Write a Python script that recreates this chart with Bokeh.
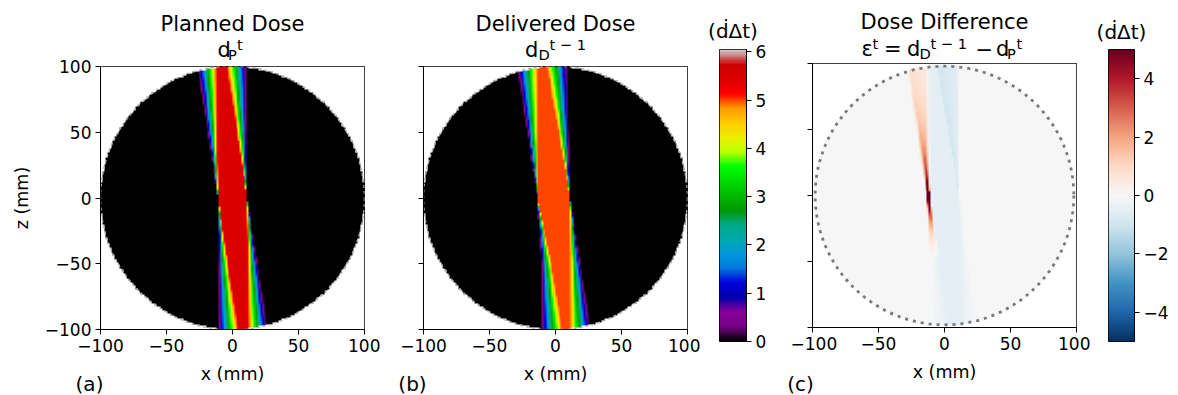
import numpy as np
from bokeh.plotting import figure
from bokeh.models import LinearColorMapper, Range1d, Label, FixedTicker, CustomJSTickFormatter
from bokeh.embed import file_html
from bokeh.resources import INLINE

# ---------------- data ----------------
x_ticks = [-100, -50, 0, 50, 100]
z_ticks = [-100, -50, 0, 50, 100]
dose_cbar_ticks = [0, 1, 2, 3, 4, 5, 6]
diff_cbar_ticks = [-4, -2, 0, 2, 4]
dose_range = [0.0, 6.05]
diff_range = [-5.0, 5.0]
phantom_radius = 100.0
diff_circle_radius = 98.0

# beam (arc) geometry, mm: lateral drift of the beam axis per mm of depth over the arc
beam_slope_range = [-0.16, 0.0]
planned_half_width = [11.0, 11.0]      # left, right edge at z = 0
delivered_half_width = [11.0, 11.0]
delivered_left_extra_z = [-100.0, -50.0, 0.0, 100.0]   # extra left width of the delivered beam
delivered_left_extra_mm = [0.0, 0.0, 2.6, 2.6]
delivered_right_extra_z = [-100.0, 0.0, 100.0]         # change of right width of the delivered beam
delivered_right_extra_mm = [0.0, 0.0, -1.5]
planned_peak = 5.5
delivered_peak = 5.0
grid_cells = 150

# matplotlib colormaps (segment data)
nipy_pos = [i * 0.05 for i in range(21)]
nipy_r = [0, .4667, .5333, 0, 0, 0, 0, 0, 0, 0, 0, 0, 0, .7333, .9333, 1, 1, 1, .8667, .8, .8]
nipy_g = [0, 0, 0, 0, 0, .4667, .6, .6667, .6667, .6, .7333, .8667, 1, 1, .9333, .8, .6, 0, 0, 0, .8]
nipy_b = [0, .5333, .6, .6667, .8667, .8667, .8667, .6667, .5333, 0, 0, 0, 0, 0, 0, 0, 0, 0, 0, 0, .8]
rdbu_r_hex = ['#053061', '#2166ac', '#4393c3', '#92c5de', '#d1e5f0', '#f7f7f7',
              '#fddbc7', '#f4a582', '#d6604d', '#b2182b', '#67001f']


def make_palette(pos, r, g, b, n=256):
    t = np.linspace(0, 1, n)
    rr = np.interp(t, pos, r); gg = np.interp(t, pos, g); bb = np.interp(t, pos, b)
    return ["#%02x%02x%02x" % (int(round(a * 255)), int(round(c * 255)), int(round(d * 255)))
            for a, c, d in zip(rr, gg, bb)]


nipy_pal = make_palette(nipy_pos, nipy_r, nipy_g, nipy_b)
rb = [[int(h[i:i + 2], 16) / 255 for i in (1, 3, 5)] for h in rdbu_r_hex]
rdbu_pal = make_palette(np.linspace(0, 1, 11), [c[0] for c in rb], [c[1] for c in rb], [c[2] for c in rb])

# ---------------- dose fields ----------------
step = 200.0 / grid_cells
centers = -100 + step * (np.arange(grid_cells) + 0.5)
X, Z = np.meshgrid(centers, centers)
R = np.hypot(X, Z)
slopes = np.linspace(beam_slope_range[0], beam_slope_range[1], 321)


def coverage(wl, wr):
    acc = np.zeros_like(X)
    for s in slopes:
        d = X - Z * s
        acc += ((d >= -wl) & (d <= wr))
    return acc / len(slopes)


planned = planned_peak * coverage(planned_half_width[0], planned_half_width[1])
wl_del = delivered_half_width[0] + np.interp(Z, delivered_left_extra_z, delivered_left_extra_mm)
wr_del = delivered_half_width[1] + np.interp(Z, delivered_right_extra_z, delivered_right_extra_mm)
delivered = delivered_peak * coverage(wl_del, wr_del)
difference = delivered - planned

planned_img = np.where(R <= phantom_radius, planned, np.nan)
delivered_img = np.where(R <= phantom_radius, delivered, np.nan)
difference_img = np.where(R <= diff_circle_radius + 1, difference, np.nan)

dose_mapper = LinearColorMapper(palette=nipy_pal, low=dose_range[0], high=dose_range[1], nan_color="white")
diff_mapper = LinearColorMapper(palette=rdbu_pal, low=diff_range[0], high=diff_range[1], nan_color="white")

FONT = "DejaVu Sans"
minus_fmt = CustomJSTickFormatter(code="return (tick < 0 ? '\u2212' : '') + Math.abs(tick).toString();")
blank_fmt = CustomJSTickFormatter(code="return '';")


def style_axis(ax, ticks, labels=True):
    ax.ticker = FixedTicker(ticks=ticks)
    ax.minor_tick_line_color = None
    ax.major_tick_out = 5
    ax.major_tick_in = 0
    ax.major_tick_line_color = "black"
    ax.axis_line_color = "black"
    ax.major_label_text_font = FONT
    ax.major_label_text_font_size = "17px"
    ax.major_label_text_color = "black"
    ax.major_label_standoff = 4
    ax.axis_label_text_font = FONT
    ax.axis_label_text_font_size = "17.5px"
    ax.axis_label_text_font_style = "normal"
    ax.axis_label_text_color = "black"
    ax.formatter = minus_fmt if labels else blank_fmt


def make_fig(g, xr, yr, **kw):
    p = figure(width=g["bl"] + g["fw"] + g["br"], height=g["bt"] + g["fh"] + g["bb"],
               frame_width=g["fw"], frame_height=g["fh"],
               min_border_left=g["bl"], min_border_right=g["br"],
               min_border_top=g["bt"], min_border_bottom=g["bb"],
               x_range=Range1d(*xr), y_range=Range1d(*yr),
               output_backend="svg", toolbar_location=None, **kw)
    p.grid.visible = False
    p.outline_line_color = "black"
    p.outline_line_width = 1
    p.background_fill_color = "white"
    p.border_fill_color = "white"
    p.styles = {"position": "absolute", "left": f"{g['x0']}px", "top": "0px"}
    return p


# ---------- panel (a) ----------
gA = dict(x0=0, bl=100, fw=264, br=16, bt=66, fh=263, bb=66)
pA = make_fig(gA, (-100, 100), (-100, 100))
pA.image(image=[planned_img], x=-100, y=-100, dw=200, dh=200, color_mapper=dose_mapper)
pA.circle(x=[0], y=[0], radius=phantom_radius, fill_color=None, line_color="#b4b4b4",
          line_width=1.5, line_dash="3 3")
style_axis(pA.xaxis[0], x_ticks)
style_axis(pA.yaxis[0], z_ticks)
pA.xaxis.axis_label = "x (mm)"
pA.yaxis.axis_label = "z (mm)"
pA.xaxis.axis_label_standoff = 9
pA.yaxis.axis_label_standoff = 10

# ---------- panel (b) ----------
gB = dict(x0=380, bl=43, fw=264, br=13, bt=66, fh=263, bb=66)
pB = make_fig(gB, (-100, 100), (-100, 100))
pB.image(image=[delivered_img], x=-100, y=-100, dw=200, dh=200, color_mapper=dose_mapper)
pB.circle(x=[0], y=[0], radius=phantom_radius, fill_color=None, line_color="#b4b4b4",
          line_width=1.5, line_dash="3 3")
style_axis(pB.xaxis[0], x_ticks)
style_axis(pB.yaxis[0], z_ticks, labels=False)
pB.xaxis.axis_label = "x (mm)"
pB.xaxis.axis_label_standoff = 9

# ---------- colorbar (a/b) ----------
gC1 = dict(x0=700, bl=19, fw=27, br=44, bt=49, fh=292, bb=54)
pC1 = make_fig(gC1, (0, 1), (dose_range[0], dose_range[1]), x_axis_location=None, y_axis_location="right")
pC1.image(image=[np.linspace(dose_range[0], dose_range[1], 256)[:, None]], x=0, y=dose_range[0],
          dw=1, dh=dose_range[1] - dose_range[0], color_mapper=dose_mapper)
style_axis(pC1.yaxis[0], dose_cbar_ticks)

# ---------- panel (c) ----------
gC = dict(x0=790, bl=22, fw=264, br=14, bt=63, fh=264, bb=68)
pC = make_fig(gC, (-100, 100), (-100, 100))
pC.image(image=[difference_img], x=-100, y=-100, dw=200, dh=200, color_mapper=diff_mapper)
pC.circle(x=[0], y=[0], radius=diff_circle_radius, fill_color=None, line_color="#7a7a7a",
          line_width=2.8, line_dash="3 5")
style_axis(pC.xaxis[0], x_ticks)
style_axis(pC.yaxis[0], z_ticks, labels=False)
pC.xaxis.axis_label = "x (mm)"
pC.xaxis.axis_label_standoff = 9

# ---------- colorbar (c) ----------
gC2 = dict(x0=1090, bl=18, fw=26, br=44, bt=49, fh=292, bb=54)
pC2 = make_fig(gC2, (0, 1), (diff_range[0], diff_range[1]), x_axis_location=None, y_axis_location="right")
pC2.image(image=[np.linspace(diff_range[0], diff_range[1], 256)[:, None]], x=0, y=diff_range[0],
          dw=1, dh=diff_range[1] - diff_range[0], color_mapper=diff_mapper)
style_axis(pC2.yaxis[0], diff_cbar_ticks)

# ---------- transparent overlay carrying titles and panel letters ----------
ov = figure(width=1178, height=395, frame_width=1178, frame_height=395,
            min_border_left=0, min_border_right=0, min_border_top=0, min_border_bottom=0,
            x_range=Range1d(0, 1178), y_range=Range1d(395, 0),
            x_axis_location=None, y_axis_location=None, title_location=None,
            output_backend="svg", toolbar_location=None)
ov.grid.visible = False
ov.outline_line_color = None
ov.background_fill_color = None
ov.border_fill_color = None
ov.styles = {"position": "absolute", "left": "0px", "top": "0px"}

BIG, SMALL = 21, 14.6


def lab(text, px, py, size, align="left"):
    # py is the wanted alphabetic baseline; Bokeh places the text box bottom there
    ov.add_layout(Label(x=px, y=py - 0.236 * size, text=text, text_font=FONT,
                        text_font_size=f"{size}px", text_align=align,
                        text_baseline="alphabetic", text_color="black"))


lab("Planned Dose", 232, 28, BIG, "center")
lab("d", 217, 54, BIG)
lab("P", 227.5, 57.5, SMALL)
lab("t", 236.5, 47, SMALL)
lab("(a)", 89, 388, 20, "center")

lab("Delivered Dose", 555, 28, BIG, "center")
lab("d", 524.5, 54, BIG)
lab("D", 538, 57.5, SMALL)
lab("t \u2212 1", 549, 47, SMALL)
lab("(b)", 412, 388, 20, "center")

lab("(\u1e0b\u0394t)", 732.5, 35, 20, "center")

lab("Dose Difference", 944, 26, BIG, "center")
lab("\u03b5", 861, 53, BIG)
lab("t", 872, 46, SMALL)
lab("=", 883.5, 53, BIG)
lab("d", 906.5, 53, BIG)
lab("D", 919, 56.5, SMALL)
lab("t \u2212 1", 930, 46, SMALL)
lab("\u2212", 975, 53, BIG)
lab("d", 995.5, 53, BIG)
lab("P", 1006.5, 56.5, SMALL)
lab("t", 1016, 46, SMALL)
lab("(c)", 800, 388, 20, "center")

lab("(\u1e0b\u0394t)", 1121, 36, 20, "center")

open("out.html", "w").write(file_html([pA, pB, pC1, pC, pC2, ov], INLINE))
